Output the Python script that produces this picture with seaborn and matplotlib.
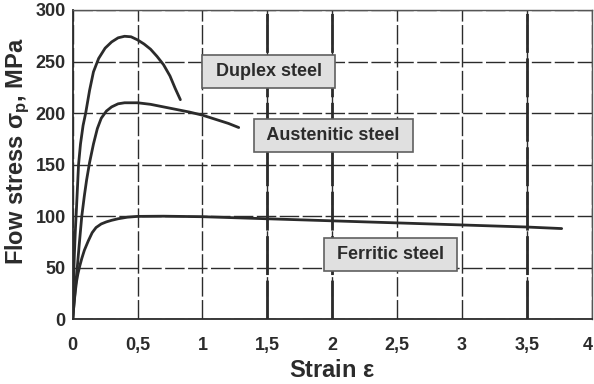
import pandas as pd
import matplotlib
matplotlib.use("Agg")
import matplotlib.pyplot as plt
import matplotlib.transforms as mtransforms
from matplotlib.font_manager import fontManager
import seaborn as sns

# strain / flow stress readings per steel grade
duplex_strain = [0, 0.005, 0.012, 0.02, 0.03, 0.045, 0.06, 0.08, 0.10, 0.13, 0.16, 0.20, 0.25, 0.30,
                 0.35, 0.40, 0.45, 0.50, 0.55, 0.60, 0.65, 0.70, 0.75, 0.79, 0.83]
duplex_stress = [0, 30, 60, 85, 110, 150, 170, 188, 200, 222, 240, 253, 263, 269,
                 273, 274.5, 274, 271, 267, 262, 255, 247, 236, 224, 213]

aust_strain = [0, 0.02, 0.035, 0.05, 0.07, 0.09, 0.107, 0.13, 0.16, 0.19, 0.22, 0.26, 0.30, 0.35,
               0.40, 0.50, 0.60, 0.70, 0.80, 0.90, 1.00, 1.10, 1.20, 1.28]
aust_stress = [0, 30, 50, 72, 100, 120, 135, 152, 170, 185, 195, 202, 206, 209,
               210, 210, 208.5, 206, 203.5, 201, 198, 194, 190, 186]

ferr_strain = [0, 0.01, 0.02, 0.03, 0.04, 0.055, 0.07, 0.09, 0.12, 0.15, 0.18, 0.22, 0.26, 0.30,
               0.35, 0.42, 0.50, 0.70, 1.00, 1.50, 2.00, 2.50, 3.00, 3.50, 3.77]
ferr_stress = [0, 15, 27, 37, 44, 52, 59, 67, 76, 84, 89, 92.5, 94.5, 96,
               97.5, 99, 99.8, 100, 99.5, 97.5, 95.5, 93.5, 91.5, 89.5, 88]

x_ticks = [0, 0.5, 1, 1.5, 2, 2.5, 3, 3.5, 4]
x_tick_labels = ["0", "0,5", "1", "1,5", "2", "2,5", "3", "3,5", "4"]
y_ticks = [0, 50, 100, 150, 200, 250, 300]

labels = ["Duplex steel", "Austenitic steel", "Ferritic steel"]
label_pos = [(1.51, 240), (2.01, 178.5), (2.45, 63)]

frames = []
for name, xs, ys in [("Duplex", duplex_strain, duplex_stress),
                     ("Austenitic", aust_strain, aust_stress),
                     ("Ferritic", ferr_strain, ferr_stress)]:
    frames.append(pd.DataFrame({"strain": xs, "stress": ys, "steel": name}))
df = pd.concat(frames, ignore_index=True)

sns.set_style("white")
plt.rcParams["font.family"] = ["Liberation Sans", "DejaVu Sans"]
plt.rcParams["mathtext.fontset"] = "custom"
plt.rcParams["mathtext.rm"] = "Liberation Sans"

# axis titles use a condensed face in the original
names = {f.name for f in fontManager.ttflist}
if "Liberation Sans Narrow" in names:
    title_font, title_size = "Liberation Sans Narrow", 20
else:
    title_font, title_size = "Liberation Sans", 17

fig = plt.figure(figsize=(5.94, 3.84), dpi=100)
ax = fig.add_axes([0.1224, 0.1685, 0.9958 - 0.1224, 0.974 - 0.1685])

ink = "#2b2b2b"
sns.lineplot(data=df, x="strain", y="stress", units="steel", estimator=None,
             sort=False, color=ink, linewidth=2, ax=ax)

ax.set_xlim(0, 4)
ax.set_ylim(0, 300)
ax.set_xticks(x_ticks)
ax.set_xticklabels(x_tick_labels)
ax.set_yticks(y_ticks)

ax.grid(True, color=ink, linestyle=(0, (14, 2.5)), linewidth=1.0)
for xv in [1.5, 2, 3.5]:
    ax.axvline(xv, color=ink, linestyle=(0, (14, 2)), linewidth=2, zorder=0.5)

for side in ["left", "bottom"]:
    ax.spines[side].set_color(ink)
    ax.spines[side].set_linewidth(1.3)
for side in ["top", "right"]:
    ax.spines[side].set_color("#555555")
    ax.spines[side].set_linewidth(1)

ax.tick_params(axis="x", length=5, width=1, color=ink, pad=8, labelsize=13, labelcolor=ink)
ax.tick_params(axis="y", length=3, width=1, color=ink, pad=2, labelsize=13, labelcolor=ink)
for t in ax.get_xticklabels() + ax.get_yticklabels():
    t.set_fontweight("bold")
last = ax.get_xticklabels()[-1]
last.set_transform(last.get_transform() + mtransforms.ScaledTranslation(-4 / 100, 0, fig.dpi_scale_trans))

ax.set_xlabel(r"Strain $\mathregular{\varepsilon}$", fontsize=title_size, fontweight="bold",
              color=ink, labelpad=3, family=[title_font, "DejaVu Sans"])
ax.set_ylabel(r"Flow stress $\mathregular{\sigma_p}$, MPa", fontsize=title_size, fontweight="bold",
              color=ink, family=[title_font, "DejaVu Sans"])
ax.yaxis.set_label_coords(-0.079, 0.545)

for text, (xv, yv) in zip(labels, label_pos):
    ax.text(xv, yv, " " + text + " ", ha="center", va="center", fontsize=13, fontweight="bold", color=ink,
            bbox=dict(boxstyle="square,pad=0.45", facecolor="#e0e0e0", edgecolor="#606060", linewidth=1.2),
            zorder=5)

fig.savefig("out.png", dpi=100)
